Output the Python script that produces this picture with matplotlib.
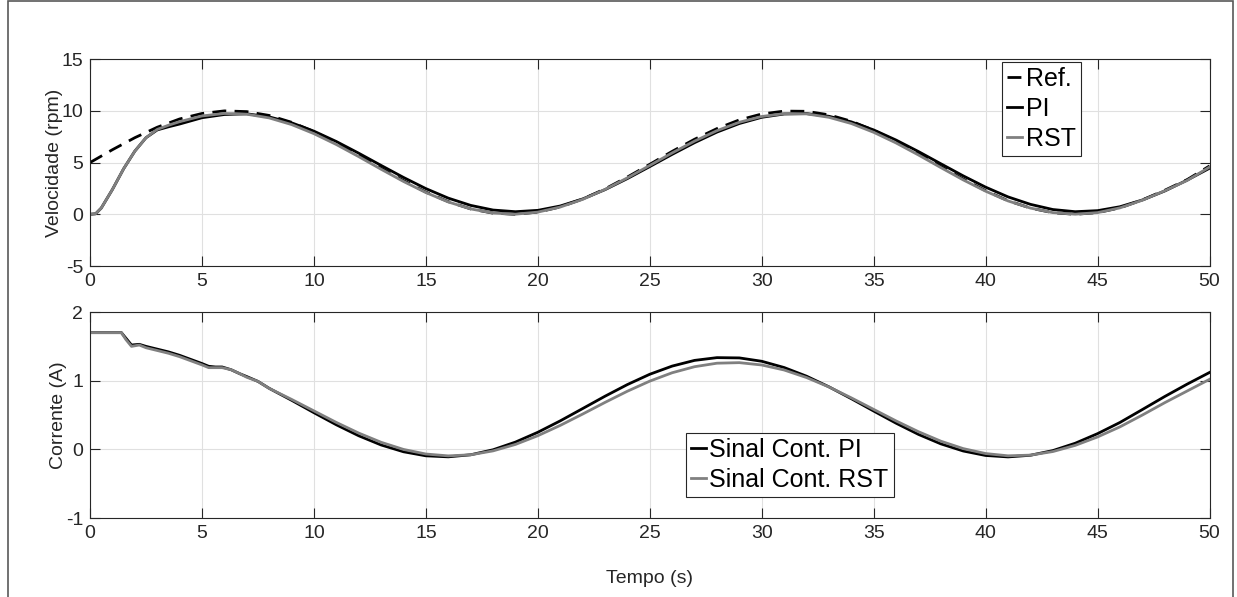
import matplotlib
matplotlib.use("Agg")
import matplotlib.pyplot as plt
from matplotlib.patches import Rectangle

plt.rcParams['font.family'] = ['Liberation Sans', 'DejaVu Sans']
plt.rcParams['axes.unicode_minus'] = False

# ---- dados ----
# velocidade (rpm)
t_ref = list(range(0, 51))
vel_ref = [5.00, 6.24, 7.40, 8.41, 9.21, 9.74, 9.99, 9.92, 9.55, 8.89,
           7.99, 6.91, 5.71, 4.46, 3.25, 2.14, 1.22, 0.52, 0.11, 0.00,
           0.21, 0.71, 1.47, 2.45, 3.60, 4.83, 6.08, 7.25, 8.28, 9.12,
           9.69, 9.97, 9.95, 9.61, 8.99, 8.12, 7.06, 5.87, 4.62, 3.40,
           2.28, 1.31, 0.60, 0.15, 0.00, 0.16, 0.62, 1.39, 2.32, 3.35,
           4.67]

t_vel = [0, 0.25, 0.5, 1, 1.5, 2, 2.5, 3, 3.5, 4, 5, 6] + list(range(7, 51))
vel_pi = [0.00, 0.05, 0.60, 2.40, 4.40, 6.10, 7.40, 8.15, 8.45, 8.72, 9.33, 9.64,
          9.71, 9.41, 8.84, 8.03, 7.03, 5.90, 4.72, 3.56, 2.48, 1.56,
          0.86, 0.41, 0.25, 0.38, 0.80, 1.48, 2.38, 3.45, 4.61, 5.79,
          6.92, 7.94, 8.77, 9.37, 9.69, 9.73, 9.47, 8.93, 8.15, 7.17,
          6.06, 4.88, 3.71, 2.62, 1.68, 0.96, 0.46, 0.25, 0.35, 0.73,
          1.38, 2.25, 3.30, 4.45]
vel_rst = [0.00, 0.05, 0.60, 2.40, 4.40, 6.10, 7.40, 8.20, 8.60, 8.95, 9.50, 9.74,
           9.67, 9.31, 8.67, 7.79, 6.74, 5.57, 4.35, 3.17, 2.10, 1.19,
           0.52, 0.12, 0.01, 0.21, 0.70, 1.44, 2.40, 3.52, 4.72, 5.93,
           7.07, 8.08, 8.89, 9.45, 9.72, 9.70, 9.37, 8.77, 7.92, 6.89,
           5.73, 4.51, 3.32, 2.23, 1.29, 0.60, 0.16, 0.01, 0.16, 0.62,
           1.36, 2.27, 3.27, 4.56]

# corrente (A)
t_cor = [0, 0.5, 1, 1.4, 1.6, 1.85, 2.2, 2.5, 3, 3.5, 4, 4.5, 5, 5.3, 5.6,
         5.9, 6.3, 6.7, 7, 7.5] + list(range(8, 51))
cor_pi = [1.70, 1.70, 1.70, 1.70, 1.62, 1.52, 1.53, 1.50, 1.46, 1.42,
          1.37, 1.31, 1.25, 1.21, 1.20, 1.20, 1.16, 1.10, 1.06, 0.99,
          0.889, 0.715, 0.534, 0.358, 0.198, 0.064, -0.035, -0.094, -0.109, -0.079,
          -0.006, 0.106, 0.249, 0.415, 0.594, 0.774, 0.944, 1.094, 1.213, 1.296,
          1.336, 1.332, 1.283, 1.192, 1.066, 0.911, 0.738, 0.558, 0.381, 0.218,
          0.080, -0.024, -0.089, -0.110, -0.086, -0.018, 0.089, 0.229, 0.392, 0.580,
          0.770, 0.950, 1.120]
cor_rst = [1.70, 1.70, 1.70, 1.70, 1.60, 1.50, 1.52, 1.48, 1.44, 1.40,
           1.35, 1.29, 1.23, 1.19, 1.19, 1.19, 1.16, 1.10, 1.05, 0.99,
           0.888, 0.728, 0.560, 0.392, 0.237, 0.103, -0.001, -0.068, -0.095, -0.079,
           -0.022, 0.072, 0.199, 0.349, 0.514, 0.684, 0.847, 0.994, 1.116, 1.204,
           1.255, 1.263, 1.229, 1.156, 1.046, 0.909, 0.750, 0.582, 0.414, 0.257,
           0.119, 0.011, -0.061, -0.094, -0.084, -0.032, 0.058, 0.181, 0.328, 0.500,
           0.680, 0.850, 1.020]

cinza = (0.5, 0.5, 0.5)
eixo = (0.15, 0.15, 0.15)

fig = plt.figure(figsize=(12.37, 5.97), dpi=100)
fig.patches.append(Rectangle((8 / 1237, -0.05), 1225 / 1237, 1.05 - 1 / 597,
                             transform=fig.transFigure, fill=False,
                             edgecolor=(0.35, 0.35, 0.35), linewidth=1.2))

ax1 = fig.add_axes([0.0728, 0.5544, 0.905, 0.3467])
ax2 = fig.add_axes([0.0728, 0.1323, 0.905, 0.3450])


def estilo(ax):
    ax.set_xlim(0, 50)
    ax.set_xticks(range(0, 51, 5))
    ax.grid(True, color=(0.88, 0.88, 0.88), linewidth=0.8)
    ax.set_axisbelow(True)
    ax.tick_params(direction='in', length=7, width=0.8, top=True, right=True,
                   labelsize=14, colors=eixo, pad=5)
    for s in ax.spines.values():
        s.set_color(eixo)
        s.set_linewidth(0.8)


# subplot velocidade
ax1.plot(t_ref, vel_ref, color='k', linewidth=2, dashes=(5, 3), label='Ref.')
ax1.plot(t_vel, vel_pi, color='k', linewidth=2, label='PI')
ax1.plot(t_vel, vel_rst, color=cinza, linewidth=2, label='RST')
ax1.set_ylim(-5, 15)
ax1.set_yticks([-5, 0, 5, 10, 15])
estilo(ax1)
ax1.set_ylabel('Velocidade (rpm)', fontsize=14, color=eixo, labelpad=-1)
leg1 = ax1.legend(loc='upper left', bbox_to_anchor=(0.815, 0.985), fontsize=18,
                  handlelength=0.6, handletextpad=0.15, labelspacing=0.24,
                  borderpad=0.2, borderaxespad=0, fancybox=False, framealpha=1)
leg1.get_frame().set_edgecolor(eixo)
leg1.get_frame().set_linewidth(0.8)

# subplot corrente
ax2.plot(t_cor, cor_pi, color='k', linewidth=2, label='Sinal Cont. PI')
ax2.plot(t_cor, cor_rst, color=cinza, linewidth=2, label='Sinal Cont. RST')
ax2.set_ylim(-1, 2)
ax2.set_yticks([-1, 0, 1, 2])
estilo(ax2)
ax2.set_ylabel('Corrente (A)', fontsize=14, color=eixo, labelpad=-1)
ax2.set_xlabel('Tempo (s)', fontsize=14, color=eixo, labelpad=20)
leg2 = ax2.legend(loc='upper left', bbox_to_anchor=(0.532, 0.4126), fontsize=18,
                  handlelength=0.6, handletextpad=0.15, labelspacing=0.24,
                  borderpad=0.2, borderaxespad=0, fancybox=False, framealpha=1)
leg2.get_frame().set_edgecolor(eixo)
leg2.get_frame().set_linewidth(0.8)

fig.savefig('out.png', dpi=100)
